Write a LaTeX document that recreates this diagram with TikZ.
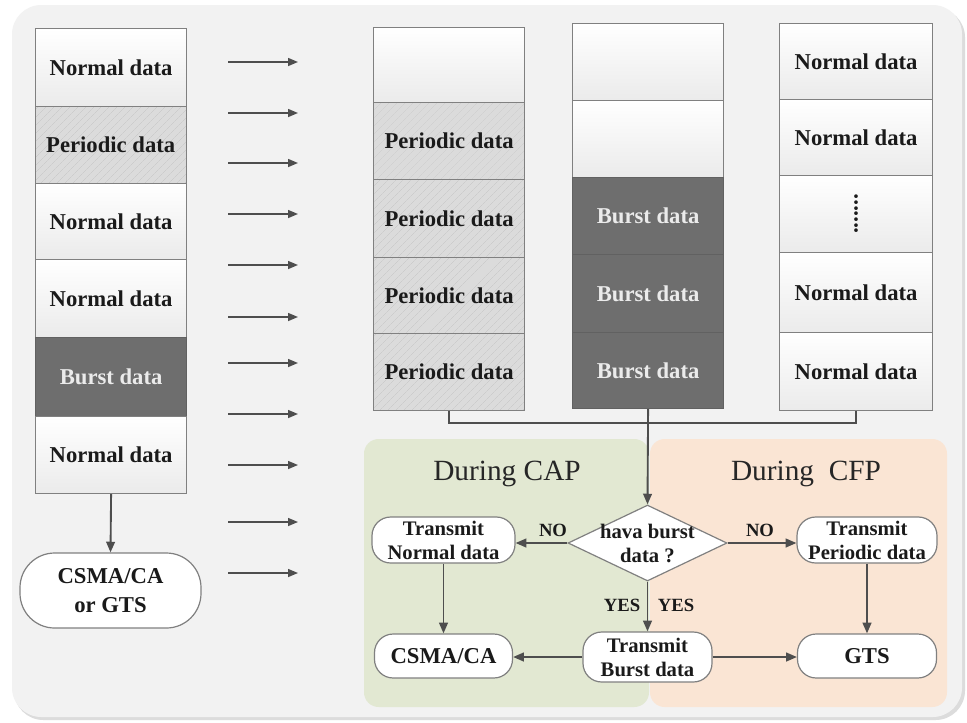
\documentclass[tikz,border=0pt]{standalone}
\usepackage{fontspec}
\setmainfont{Liberation Serif}
\usetikzlibrary{arrows.meta,shapes.geometric,patterns.meta}

\definecolor{pagebg}{HTML}{F2F2F2}
\definecolor{pageshade}{HTML}{DCDCDC}
\definecolor{edgegray}{HTML}{808080}
\definecolor{linegray}{HTML}{4E4E4E}
\definecolor{capgreen}{HTML}{E2E8D2}
\definecolor{cfporange}{HTML}{FAE5D4}
\definecolor{burstgray}{HTML}{6E6E6E}
\definecolor{inkblack}{HTML}{1A1A1A}

\begin{document}
\begin{tikzpicture}[x=0.75pt,y=-0.75pt,
  cell/.style={draw=edgegray, line width=0.9pt, minimum width=151*0.75pt,
    inner sep=0pt, anchor=north west, text=inkblack,
    font=\bfseries\fontsize{17}{20}\selectfont},
  normal/.style={cell, top color=white, bottom color=black!8},
  periodic/.style={cell, preaction={fill=black!14},
    pattern={Lines[angle=45,distance=4pt,line width=0.35pt]}, pattern color=black!20},
  burst/.style={cell, fill=burstgray, draw=black!62, text=black!8},
  flowbox/.style={draw=edgegray, line width=0.9pt, fill=white, rounded corners=14pt,
    inner sep=0pt, align=center, text=inkblack,
    font=\bfseries\fontsize{15.5}{18}\selectfont},
  decision/.style={diamond, draw=edgegray, line width=0.9pt, fill=white, inner sep=0pt,
    minimum width=159*0.75pt, minimum height=76*0.75pt},
  flowtext/.style={align=center, inner sep=0pt, text=inkblack,
    font=\bfseries\fontsize{15.5}{18}\selectfont},
  lbl/.style={inner sep=0pt, text=inkblack, font=\bfseries\fontsize{14}{16}\selectfont},
  paneltitle/.style={inner sep=0pt, anchor=base, text=black!85,
    font=\fontsize{22}{26}\selectfont},
  flow/.style={draw=linegray, line width=1.4pt, -{Triangle[length=8pt,width=6.5pt]}},
  midarrow/.style={draw=linegray, line width=1.1pt, -{Triangle[length=7.5pt,width=6pt]}},
  link/.style={draw=linegray, line width=1.1pt}
]
% page and rounded backdrop
\fill[white] (0,0) rectangle (967,722);
\useasboundingbox (0,0) rectangle (967,722);
\fill[pageshade, rounded corners=22pt] (14,8) rectangle (965,720);
\fill[pagebg, rounded corners=22pt] (12,5) rectangle (962,717);

% CAP / CFP panels
\fill[capgreen, rounded corners=11pt] (364,439) rectangle (649,707);
\fill[cfporange, rounded corners=11pt] (650,439) rectangle (947,707);
\node[paneltitle] (capt) at (507,480) {During CAP};
\node[paneltitle] (cfpt) at (806,480) {During~ CFP};

% incoming frame (left column)
\node[normal,   minimum height=78*0.75pt] (l1) at (35,28)  {Normal data};
\node[periodic, minimum height=77*0.75pt] (l2) at (35,106) {Periodic data};
\node[normal,   minimum height=76*0.75pt] (l3) at (35,183) {Normal data};
\node[normal,   minimum height=78*0.75pt] (l4) at (35,259) {Normal data};
\node[burst,    minimum height=79*0.75pt] (l5) at (35,337) {Burst data};
\node[normal,   minimum height=77*0.75pt] (l6) at (35,416) {Normal data};

\node[flowbox, rounded corners=26pt, minimum width=181*0.75pt, minimum height=75*0.75pt,
  font=\bfseries\fontsize{17}{21.5}\selectfont] (lo) at (110.5,590.5) {CSMA/CA\\or GTS};
\draw[flow] (l6.south) -- (lo.north);

% row of arrows
\foreach \yy [count=\i] in {62,113,163,214,265,317,363,414,465,522,573}{
  \coordinate (s\i) at (228,\yy);
  \coordinate (t\i) at (298,\yy);
  \draw[midarrow] (s\i) -- (t\i);
}

% periodic queue
\node[normal,   minimum height=75*0.75pt] (a1) at (373,27)  {};
\node[periodic, minimum height=77*0.75pt] (a2) at (373,102) {Periodic data};
\node[periodic, minimum height=78*0.75pt] (a3) at (373,179) {Periodic data};
\node[periodic, minimum height=76*0.75pt] (a4) at (373,257) {Periodic data};
\node[periodic, minimum height=77*0.75pt] (a5) at (373,333) {Periodic data};

% burst queue
\node[normal, minimum height=77*0.75pt] (b1) at (572,23)  {};
\node[normal, minimum height=77*0.75pt] (b2) at (572,100) {};
\node[burst,  minimum height=77*0.75pt] (b3) at (572,177) {Burst data};
\node[burst,  minimum height=78*0.75pt] (b4) at (572,254) {Burst data};
\node[burst,  minimum height=76*0.75pt] (b5) at (572,332) {Burst data};

% normal queue
\node[normal, minimum width=153*0.75pt, minimum height=76*0.75pt] (c1) at (779,23)  {Normal data};
\node[normal, minimum width=153*0.75pt, minimum height=76*0.75pt] (c2) at (779,99)  {Normal data};
\node[normal, minimum width=153*0.75pt, minimum height=77*0.75pt] (c3) at (779,175)
  {\rotatebox{90}{.......}};
\node[normal, minimum width=153*0.75pt, minimum height=80*0.75pt] (c4) at (779,252) {Normal data};
\node[normal, minimum width=153*0.75pt, minimum height=78*0.75pt] (c5) at (779,332) {Normal data};

% queues joined to the decision
\draw[link] (a5.south) -- (a5.south |- 0,423) -- (c5.south |- 0,423) -- (c5.south);

\node[decision] (dec) at (647.5,543) {};
\node[flowtext] (dectext) at (dec) {hava burst\\data ?};
\draw[flow] (b5.south) -- (dec.north);

% flow chart boxes
\node[flowbox, minimum width=143*0.75pt, minimum height=46*0.75pt] (tn) at (443.5,540) {Transmit\\Normal data};
\node[flowbox, minimum width=140*0.75pt, minimum height=46*0.75pt] (tp) at (867,540) {Transmit\\Periodic data};
\node[flowbox, minimum width=129*0.75pt, minimum height=50*0.75pt] (tb) at (647.5,657) {Transmit\\Burst data};
\node[flowbox, minimum width=138*0.75pt, minimum height=44*0.75pt,
  font=\bfseries\fontsize{17}{20}\selectfont] (cs) at (443.5,656) {CSMA/CA};
\node[flowbox, minimum width=139*0.75pt, minimum height=44*0.75pt,
  font=\bfseries\fontsize{17}{20}\selectfont] (gts) at (867,656) {GTS};

\draw[flow] (dec.west) -- (tn.east |- dec.west);
\draw[flow] (dec.east) -- (tp.west |- dec.east);
\draw[flow] (dec.south) -- (tb.north);
\draw[flow] (tn.south) -- (cs.north);
\draw[flow] (tp.south) -- (gts.north);
\draw[flow] (tb.west) -- (cs.east |- tb.west);
\draw[flow] (tb.east) -- (gts.west |- tb.east);

\node[lbl] (noL) at (553,530) {NO};
\node[lbl] (noR) at (760,530) {NO};
\node[lbl] (yesL) at (622,605) {YES};
\node[lbl] (yesR) at (676,605) {YES};
\end{tikzpicture}
\end{document}
